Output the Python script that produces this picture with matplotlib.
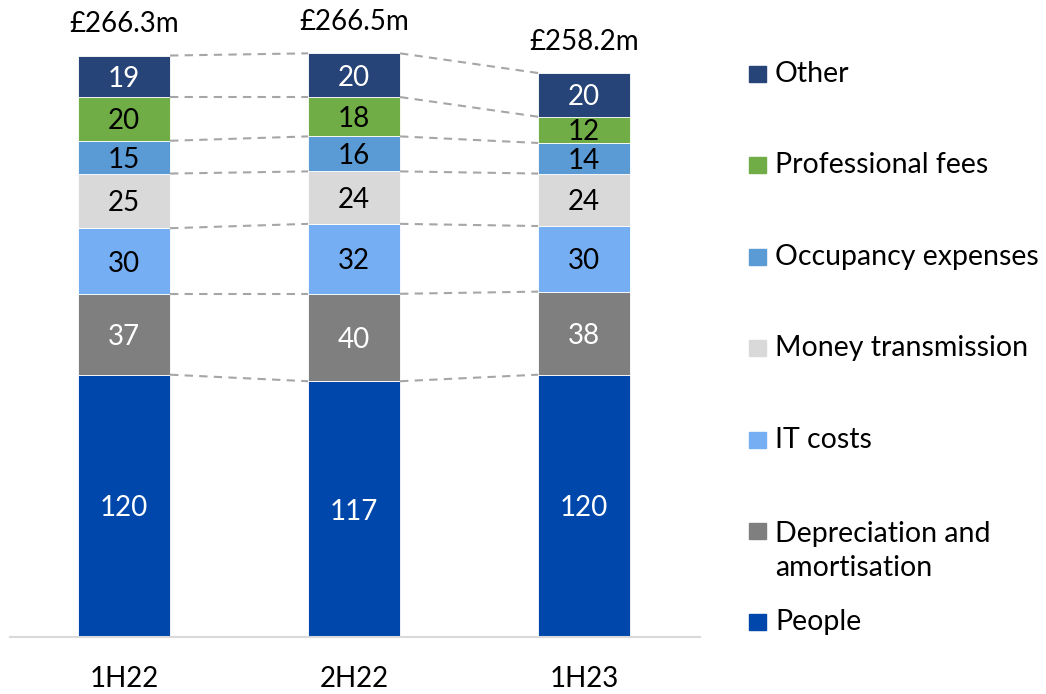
import matplotlib
matplotlib.use("Agg")
import matplotlib.pyplot as plt
from matplotlib.patches import Rectangle
import numpy as np

plt.rcParams['font.family'] = ['Lato', 'DejaVu Sans']

periods = ['1H22', '2H22', '1H23']
totals = ['£266.3m', '£266.5m', '£258.2m']

# bottom to top
categories = ['People', 'Depreciation and\namortisation', 'IT costs',
              'Money transmission', 'Occupancy expenses', 'Professional fees', 'Other']
people = [120, 117, 120]
depreciation = [37, 40, 38]
it_costs = [30, 32, 30]
money = [25, 24, 24]
occupancy = [15, 16, 14]
prof_fees = [20, 18, 12]
other = [19, 20, 20]

series = [people, depreciation, it_costs, money, occupancy, prof_fees, other]
colors = ['#0047AB', '#7F7F7F', '#76AEF4', '#D9D9D9', '#5B9BD5', '#70AD47', '#264478']
text_colors = ['white', 'white', 'black', 'black', 'black', 'black', 'white']

fig = plt.figure(figsize=(10.46, 6.94), dpi=100)
W, H = 1046, 694
ax = fig.add_axes([10 / W, (H - 637) / H, 690 / W, 637 / H])

x = np.arange(len(periods))
width = 0.4
bottom = np.zeros(len(periods))
tops = []
for vals, col, tcol in zip(series, colors, text_colors):
    vals = np.array(vals, dtype=float)
    ax.bar(x, vals, width, bottom=bottom, color=col, edgecolor='white', linewidth=0.6)
    for xi, b, v in zip(x, bottom, vals):
        ax.text(xi, b + v / 2, f'{int(v)}', ha='center', va='center_baseline',
                fontsize=20, color=tcol)
    bottom = bottom + vals
    tops.append(bottom.copy())

# dashed connectors
for t in tops:
    for i in range(len(x) - 1):
        ax.plot([x[i] + width / 2, x[i + 1] - width / 2], [t[i], t[i + 1]],
                color='#A6A6A6', linestyle=(0, (4, 3)), linewidth=1.5)

for xi, t, lbl in zip(x, tops[-1], totals):
    ax.annotate(lbl, (xi, t), xytext=(0, 13), textcoords='offset points',
                ha='center', va='bottom', fontsize=20)

ax.set_xlim(-0.496, 2.504)
ax.set_ylim(0, 637 / 2.186)
ax.set_xticks(x)
ax.set_xticklabels(periods, fontsize=20)
ax.tick_params(axis='x', length=0, pad=21)
ax.set_yticks([])
for s in ['top', 'right', 'left']:
    ax.spines[s].set_visible(False)
ax.spines['bottom'].set_color('#D9D9D9')
ax.spines['bottom'].set_linewidth(1.5)

# legend, top to bottom
leg_y = [74, 165, 257, 348, 440, 551, 622]
order = list(range(len(categories)))[::-1]
for k, idx in enumerate(order):
    y = leg_y[k]
    sq_y = 531 if '\n' in categories[idx] else y
    fig.patches.append(Rectangle((749 / W, (H - sq_y - 8) / H), 17 / W, 16 / H,
                                 transform=fig.transFigure, color=colors[idx]))
    fig.text(775 / W, (H - y) / H, categories[idx], ha='left', va='center',
             fontsize=20.5, linespacing=1.42)

fig.savefig('out.png', dpi=100)
